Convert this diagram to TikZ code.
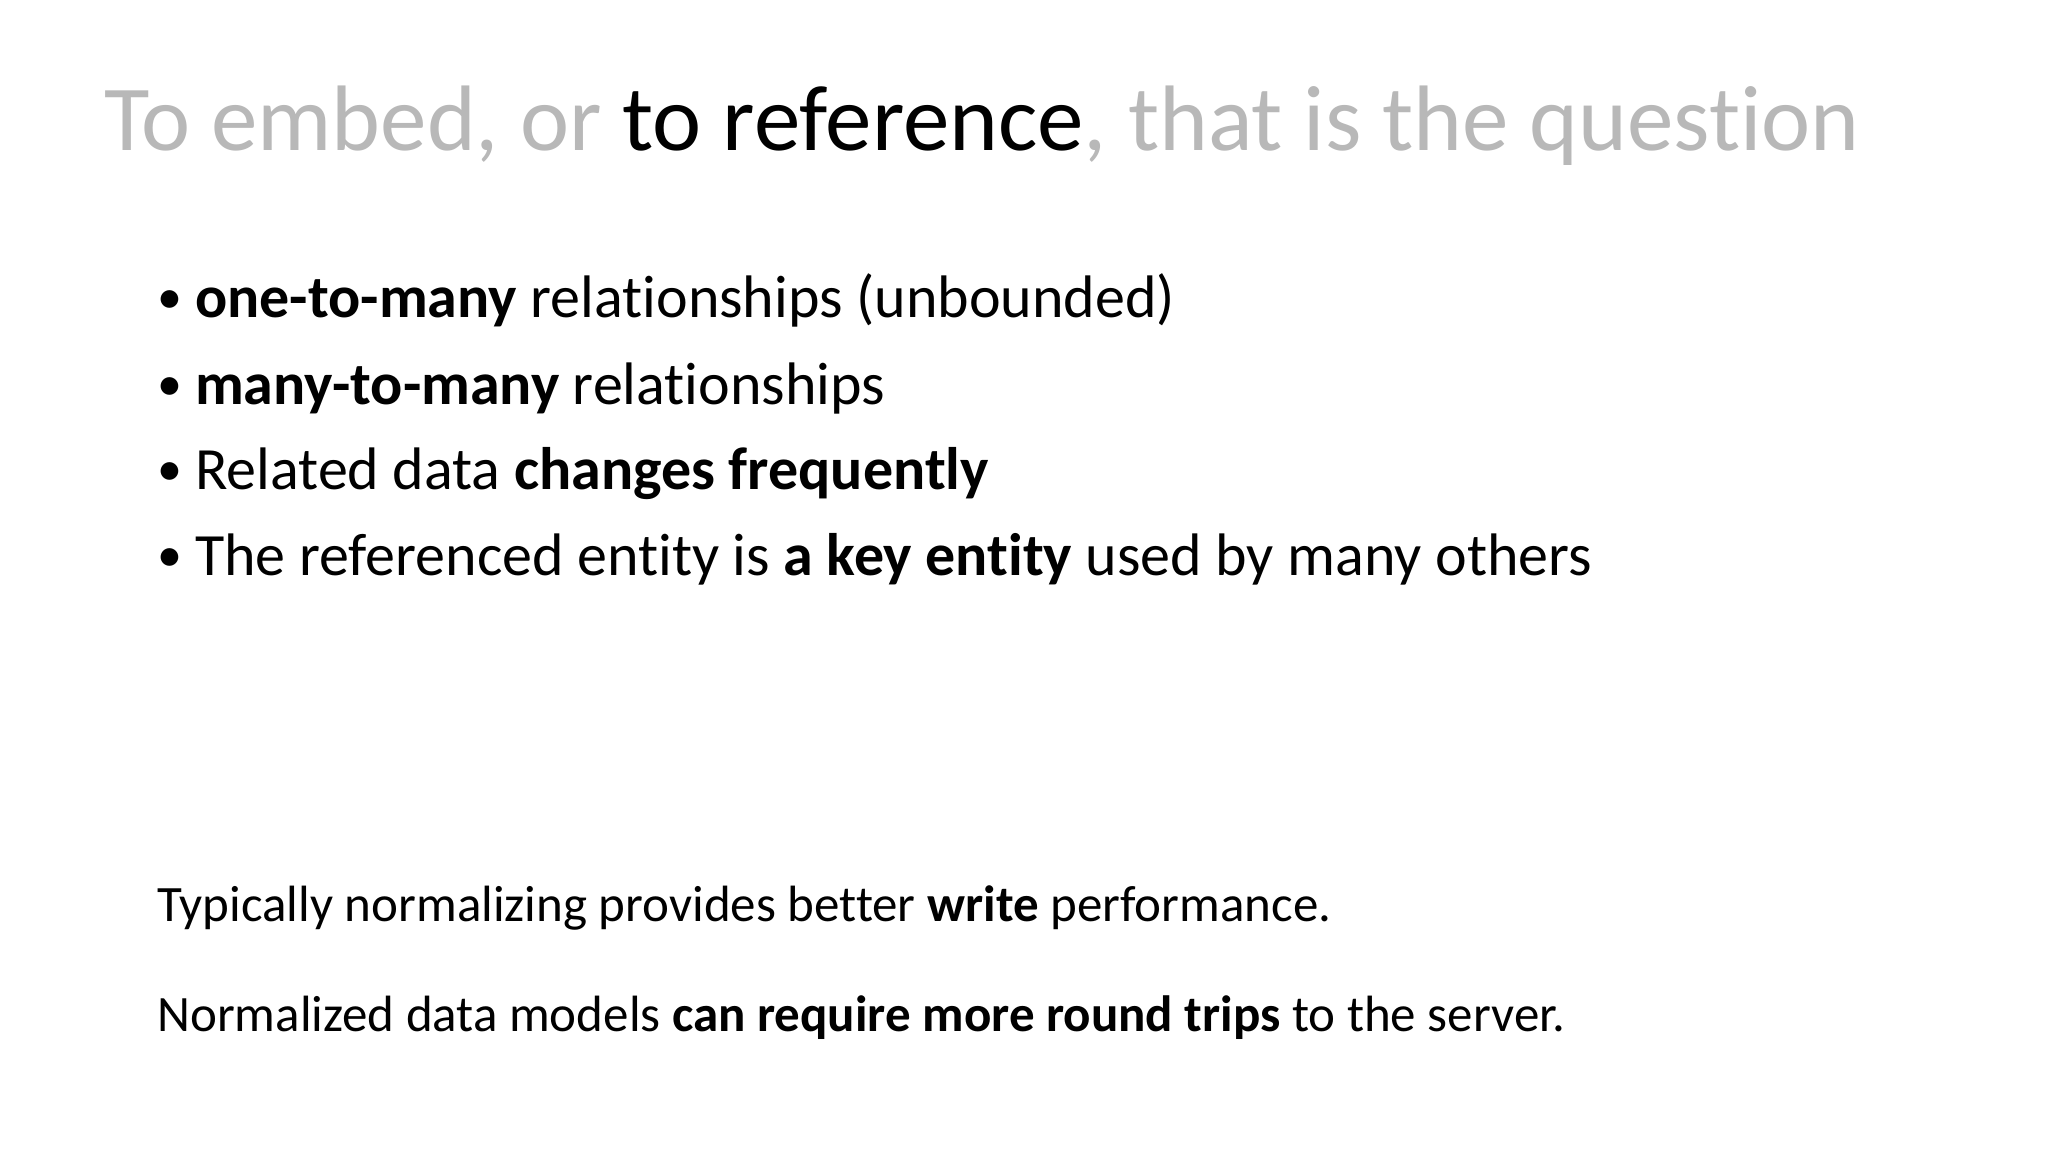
\documentclass[tikz,border=0pt]{standalone}
\usepackage{fontspec}
\setmainfont[Ligatures={NoCommon}]{Carlito}
\begin{document}
\begin{tikzpicture}[x=1pt,y=-1pt,
  ttl/.style={anchor=base west,inner sep=0pt,font=\fontsize{93}{110}\selectfont},
  bul/.style={anchor=base west,inner sep=0pt,font=\fontsize{60}{66}\selectfont},
  dot/.style={anchor=base west,inner sep=0pt,font=\fontsize{50}{60}\selectfont},
  txt/.style={anchor=base west,inner sep=0pt,font=\fontsize{51}{58}\selectfont}]
\useasboundingbox[fill=white] (0,0) rectangle (2048,1152);
\node[ttl] (title) at (104,150) {\color[gray]{0.72}To embed, or \textcolor{black}{to reference}, that is the question};
\foreach \y/\n in {317/a,404/b,489/c,575/d}{\node[dot] (d\n) at (157,\y-4) {•};}
\node[bul] (b1) at (195,317) {\textbf{one-to-many} relationships (unbounded)};
\node[bul] (b2) at (195,404) {\textbf{many-to-many} relationships};
\node[bul] (b3) at (195,489) {Related data \textbf{changes frequently}};
\node[bul] (b4) at (195,575) {The referenced entity is \textbf{a key entity} used by many others};
\node[txt] (t1) at (157,921) {Typically normalizing provides better \textbf{write} performance.};
\node[txt] (t2) at (157,1031) {Normalized data models \textbf{can require more round trips} to the server.};
\end{tikzpicture}
\end{document}
